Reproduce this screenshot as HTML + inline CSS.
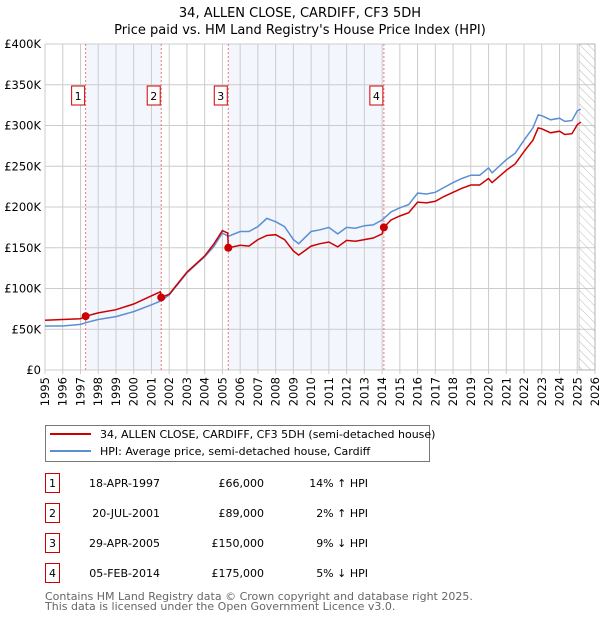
<!DOCTYPE html>
<html><head><meta charset="utf-8"><style>
body{margin:0;background:#fff;font-family:"Liberation Sans","DejaVu Sans",sans-serif;}
svg text{font-family:"DejaVu Sans","Liberation Sans",sans-serif;}
</style></head><body>
<svg id="chart" width="600" height="620" xmlns="http://www.w3.org/2000/svg">
<defs><pattern id="hatch" width="6" height="6" patternUnits="userSpaceOnUse" patternTransform="rotate(-45)"><line x1="0" y1="0" x2="0" y2="6" stroke="#bbb" stroke-width="1"/></pattern></defs>
<text x="300" y="17" text-anchor="middle" font-size="13">34, ALLEN CLOSE, CARDIFF, CF3 5DH</text>
<text x="300" y="34" text-anchor="middle" font-size="13">Price paid vs. HM Land Registry's House Price Index (HPI)</text>
<g id="plot"></g>
<g>
<rect x="45.5" y="425.5" width="384" height="36" fill="#fff" stroke="#777"/>
<line x1="50" y1="434" x2="91" y2="434" stroke="#cc0000" stroke-width="2"/>
<text x="100" y="438" font-size="11">34, ALLEN CLOSE, CARDIFF, CF3 5DH (semi-detached house)</text>
<line x1="50" y1="451" x2="91" y2="451" stroke="#5b8fd4" stroke-width="2"/>
<text x="100" y="455" font-size="11">HPI: Average price, semi-detached house, Cardiff</text>
</g>
<g id="table" font-size="11"></g>
<text x="45" y="600" font-size="11" fill="#666">Contains HM Land Registry data © Crown copyright and database right 2025.</text>
<text x="45" y="610" font-size="11" fill="#666">This data is licensed under the Open Government Licence v3.0.</text>
</svg>
<script>
const hpiYears=[1995,1996,1997,1997.3,1998,1999,2000,2001,2001.55,2002,2003,2004,2004.5,2005,2005.33,2006,2006.5,2007,2007.5,2008,2008.5,2009,2009.3,2010,2010.5,2011,2011.5,2012,2012.5,2013,2013.5,2014,2014.5,2015,2015.5,2016,2016.5,2017,2017.5,2018,2018.5,2019,2019.5,2020,2020.2,2021,2021.5,2022,2022.5,2022.8,2023,2023.5,2024,2024.3,2024.7,2025,2025.2];
const hpiValues=[54,54,56,58,62,65.5,71.6,80,85,92,119,139,151,168,164,170,170,176,186,182,176,160,155,170,172,175,167,175,174,177,178,184,194,199,203,217,216,218,224,230,235,239,239,248,242,258,266,282,297,313,312,307,309,305,306,318,320];
const priceYears=[1995,1996,1997,1997.3,1998,1999,2000,2001,2001.5,2001.55,2002,2003,2004,2004.5,2005,2005.3,2005.33,2006,2006.5,2007,2007.5,2008,2008.5,2009,2009.3,2010,2010.5,2011,2011.5,2012,2012.5,2013,2013.5,2014,2014.1,2014.5,2015,2015.5,2016,2016.5,2017,2017.5,2018,2018.5,2019,2019.5,2020,2020.2,2021,2021.5,2022,2022.5,2022.8,2023,2023.5,2024,2024.3,2024.7,2025,2025.2];
const priceValues=[61,62,63,66,70,74,81,91,96,89,93,120,140,154,171,168,150,153,152,160,165,166,160,146,141,152,155,157,151,159,158,160,162,167,175,184,189,193,206,205,207,213,218,223,227,227,235,230,245,253,268,282,297,296,291,293,289,290,301,304];
const saleYears=[1997.29,2001.55,2005.33,2014.1];
const salePrices=[66,89,150,175];
const saleLabels=["1","2","3","4"];
const saleDates=["18-APR-1997","20-JUL-2001","29-APR-2005","05-FEB-2014"];
const salePriceText=["£66,000","£89,000","£150,000","£175,000"];
const saleHpiText=["14% ↑ HPI","2% ↑ HPI","9% ↓ HPI","5% ↓ HPI"];
const yTicks=[0,50,100,150,200,250,300,350,400];
const yTickLabels=["£0","£50K","£100K","£150K","£200K","£250K","£300K","£350K","£400K"];
const xTicks=[1995,1996,1997,1998,1999,2000,2001,2002,2003,2004,2005,2006,2007,2008,2009,2010,2011,2012,2013,2014,2015,2016,2017,2018,2019,2020,2021,2022,2023,2024,2025,2026];

const NS="http://www.w3.org/2000/svg";
const X0=45,X1=595,Y0=370,Y1=44;
const x=t=>X0+(t-1995)/(2026-1995)*(X1-X0);
const y=v=>Y0-v/400*(Y0-Y1);
const plot=document.getElementById('plot');
function mk(tag,attrs,parent){const e=document.createElementNS(NS,tag);for(const k in attrs)e.setAttribute(k,attrs[k]);(parent||plot).appendChild(e);return e;}

let b1=mk('rect',{x:x(saleYears[0]),y:Y1,width:x(saleYears[1])-x(saleYears[0]),height:Y0-Y1,fill:'#f3f6fd'});


let b2=mk('rect',{x:x(saleYears[2]),y:Y1,width:x(saleYears[3])-x(saleYears[2]),height:Y0-Y1,fill:'#f3f6fd'});


xTicks.forEach(t=>{const l=mk('line',{x1:x(t),x2:x(t),y1:Y1,y2:Y0+4,stroke:'#ccc'});


const tx=mk('text',{transform:`translate(${x(t)+4},${Y0+7}) rotate(-90)`,'text-anchor':'end','font-size':'11.5'});tx.textContent=t;

});
yTicks.forEach((v,i)=>{const l=mk('line',{x1:X0,x2:X1,y1:y(v),y2:y(v),stroke:'#ccc'});


const tx=mk('text',{x:X0-4,y:y(v)+4,'text-anchor':'end','font-size':'11.5'});tx.textContent=yTickLabels[i];

});
const h=mk('rect',{x:x(2025.1),y:Y1,width:X1-x(2025.1),height:Y0-Y1,fill:'url(#hatch)',stroke:'#999','stroke-width':0.5});


saleYears.forEach((t,i)=>{const l=mk('line',{x1:x(t),x2:x(t),y1:Y1,y2:Y0,stroke:'#ee7777','stroke-dasharray':'2,2'});


const r=mk('rect',{x:x(t)-14,y:86,width:13,height:19,fill:'#fff',stroke:'#cc0000'});


const tx=mk('text',{x:x(t)-7.5,y:100,'text-anchor':'middle','font-size':'11'});tx.textContent=saleLabels[i];

});
const hp=mk('path',{d:hpiYears.map((t,i)=>(i?'L':'M')+x(t).toFixed(1)+','+y(hpiValues[i]).toFixed(1)).join(''),fill:'none',stroke:'#5b8fd4','stroke-width':1.5});


const pp=mk('path',{d:priceYears.map((t,i)=>(i?'L':'M')+x(t).toFixed(1)+','+y(priceValues[i]).toFixed(1)).join(''),fill:'none',stroke:'#cc0000','stroke-width':1.5});


saleYears.forEach((t,i)=>{const c=mk('circle',{cx:x(t),cy:y(salePrices[i]),r:4,fill:'#cc0000'});

});
const tb=document.getElementById('table');
const rowsY=[483,513,543,573];
saleLabels.forEach((s,i)=>{const yy=rowsY[i];
const r=mk('rect',{x:45.5,y:yy-9.5,width:14,height:19,fill:'#fff',stroke:'#cc0000'},tb);


const n=mk('text',{x:52.5,y:yy+4,'text-anchor':'middle'},tb);n.textContent=s;


const d=mk('text',{x:160,y:yy+4,'text-anchor':'end'},tb);d.textContent=saleDates[i];


const p=mk('text',{x:264,y:yy+4,'text-anchor':'end'},tb);p.textContent=salePriceText[i];


const q=mk('text',{x:368,y:yy+4,'text-anchor':'end'},tb);q.textContent=saleHpiText[i];

});
</script>
</body></html>
